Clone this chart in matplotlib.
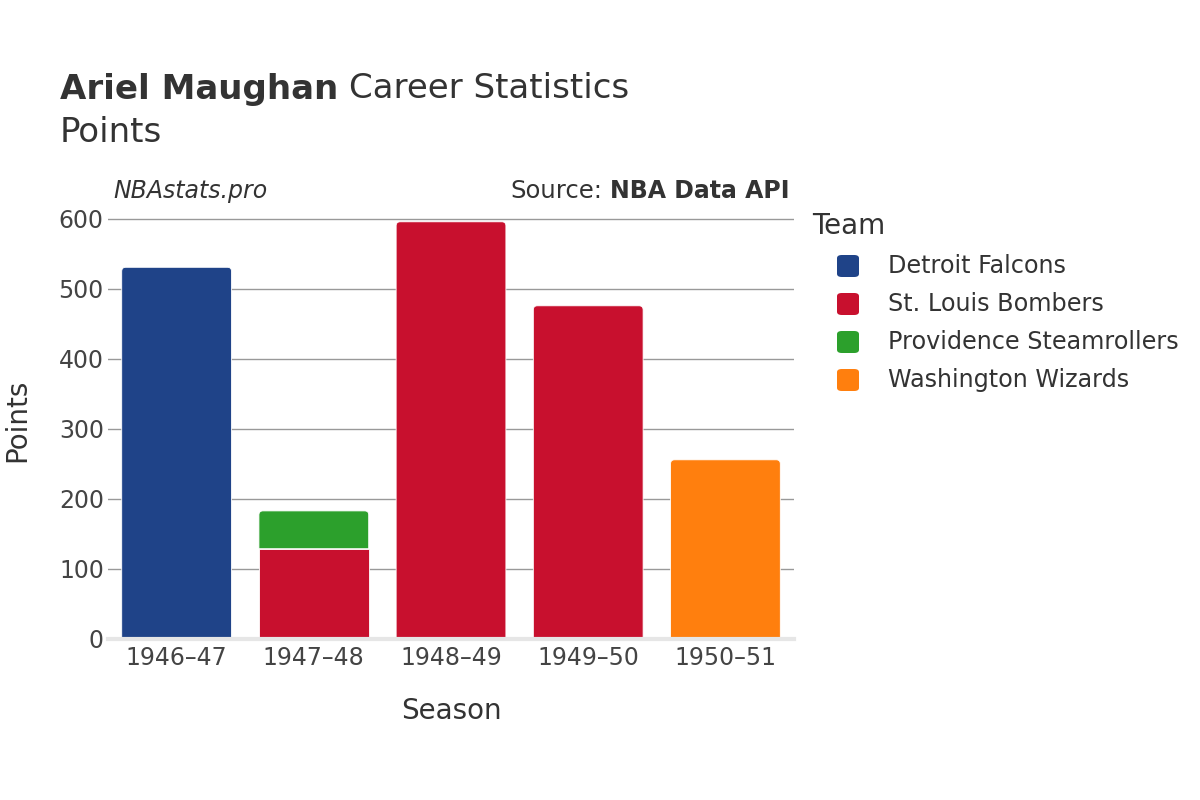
import matplotlib
matplotlib.use("Agg")
import matplotlib.pyplot as plt
from matplotlib.path import Path
from matplotlib.patches import PathPatch, FancyBboxPatch
import numpy as np

seasons = ["1946–47", "1947–48", "1948–49", "1949–50", "1950–51"]
teams = ["Detroit Falcons", "St. Louis Bombers", "Providence Steamrollers", "Washington Wizards"]
team_colors = ["#1f4388", "#c8102e", "#2ca02c", "#ff7f0e"]
# points per team per season (stacked in team order)
detroit = [531, 0, 0, 0, 0]
st_louis = [0, 129, 596, 476, 0]
providence = [0, 54, 0, 0, 0]
washington = [0, 0, 0, 0, 256]
series = [detroit, st_louis, providence, washington]
yticks = [0, 100, 200, 300, 400, 500, 600]

TEXT = "#333333"
TICK = "#444444"

fig = plt.figure(figsize=(12, 8), dpi=100)
ax = fig.add_axes([0.09, 0.20125, 0.5717, 0.5425])
ax.set_xlim(-0.5, 4.5)
ax.set_ylim(0, 620)

width = 0.8
fig.canvas.draw()
p0 = ax.transData.transform((0, 0))
p1 = ax.transData.transform((1, 100))
px_per_x = p1[0] - p0[0]
px_per_y = (p1[1] - p0[1]) / 100.0
r_px = 4.0
rx = r_px / px_per_x
ry = r_px / px_per_y


def bar_path(x0, x1, y0, y1, round_top):
    if not round_top:
        verts = [(x0, y0), (x1, y0), (x1, y1), (x0, y1), (x0, y0)]
        codes = [Path.MOVETO, Path.LINETO, Path.LINETO, Path.LINETO, Path.CLOSEPOLY]
        return Path(verts, codes)
    verts = [(x0, y0), (x1, y0), (x1, y1 - ry), (x1, y1), (x1 - rx, y1),
             (x0 + rx, y1), (x0, y1), (x0, y1 - ry), (x0, y0)]
    codes = [Path.MOVETO, Path.LINETO, Path.LINETO, Path.CURVE3, Path.CURVE3,
             Path.LINETO, Path.CURVE3, Path.CURVE3, Path.CLOSEPOLY]
    return Path(verts, codes)


x = np.arange(len(seasons))
for i in range(len(seasons)):
    bottom = 0
    nonzero = [k for k in range(len(series)) if series[k][i] > 0]
    for k in nonzero:
        v = series[k][i]
        top = k == nonzero[-1]
        path = bar_path(x[i] - width / 2, x[i] + width / 2, bottom, bottom + v, top)
        patch = PathPatch(path, facecolor=team_colors[k], edgecolor="white",
                          linewidth=0.6, zorder=3)
        ax.add_patch(patch)
        bottom += v

ax.set_yticks(yticks)
ax.set_xticks(x)
ax.set_xticklabels(seasons)
ax.grid(axis="y", color="#999999", linewidth=1, zorder=0)
ax.set_axisbelow(True)
for s in ["top", "right", "left"]:
    ax.spines[s].set_visible(False)
ax.spines["bottom"].set_color("#e6e6e6")
ax.spines["bottom"].set_linewidth(3)
ax.spines["bottom"].set_zorder(4)
ax.tick_params(axis="both", length=0, labelsize=17, labelcolor=TICK)
ax.tick_params(axis="x", pad=5)
ax.tick_params(axis="y", pad=3)

fig.text(451 / 1200, 1 - 711 / 800, "Season", fontsize=20, color=TEXT, va="center", ha="center")
fig.text(17 / 1200, 1 - 420 / 800, "Points", fontsize=20, color=TEXT, va="center",
         ha="center", rotation=90)

# titles
t1 = fig.text(60 / 1200, 1 - 89 / 800, "Ariel Maughan", fontsize=24.5, color=TEXT,
              va="center", fontweight="bold")
fig.canvas.draw()
bb = t1.get_window_extent()
fig.text(bb.x1 / 1200 + 11 / 1200, 1 - 89 / 800, "Career Statistics", fontsize=24.5,
         color=TEXT, va="center")
fig.text(60 / 1200, 1 - 132 / 800, "Points", fontsize=24.5, color=TEXT, va="center")

fig.text(113 / 1200, 1 - 191 / 800, "NBAstats.pro", fontsize=17, color=TEXT,
         va="center", style="italic")
src_b = fig.text(790 / 1200, 1 - 191 / 800, "NBA Data API", fontsize=17, color=TEXT,
                 va="center", ha="right", fontweight="bold")
fig.canvas.draw()
bb2 = src_b.get_window_extent()
fig.text(bb2.x0 / 1200 - 8 / 1200, 1 - 191 / 800, "Source:", fontsize=17.5, color=TEXT,
         va="center", ha="right")

# legend
fig.text(812 / 1200, 1 - 226 / 800, "Team", fontsize=20, color=TEXT, va="center")
leg_y = [266, 304, 342, 380]
for name, col, yy in zip(teams, team_colors, leg_y):
    box = FancyBboxPatch(((848 - 11) / 1200, (800 - yy - 11) / 800), 22 / 1200, 22 / 800,
                         boxstyle="round,pad=0,rounding_size=0.004",
                         transform=fig.transFigure, facecolor=col, edgecolor="none")
    fig.patches.append(box)
    fig.text(888 / 1200, 1 - yy / 800, name, fontsize=17.2, color=TEXT, va="center")

fig.savefig("out.png", dpi=100)
